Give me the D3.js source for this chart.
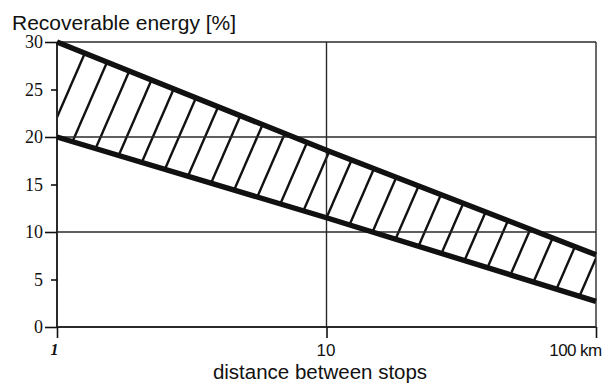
<!DOCTYPE html>
<html>
<head>
<meta charset="utf-8">
<script src="https://cdn.jsdelivr.net/npm/d3@7"></script>
<style>
  html, body { margin: 0; padding: 0; background: #fff; }
  svg { display: block; }
</style>
</head>
<body>
<svg id="chart" width="604" height="385"></svg>
<script>
// Distance between stops (km) and the recoverable-energy band limits (%)
const distances = [1, 10, 100];
const upperBound = [30, 18.6, 7.6];
const lowerBound = [20, 11.5, 2.7];

const yTicks = [0, 5, 10, 15, 20, 25, 30];
const yMajor = [0, 10, 20, 30];
const xTicks = [1, 10, 100];
const xTickLabels = ["1", "10", "100 km"];

const titleText = "Recoverable energy [%]";
const xTitleText = "distance between stops";

const svg = d3.select("#chart");
const plot = { left: 57, right: 596, top: 42, bottom: 327 };
const ink = "#111";

const x = d3.scaleLog().domain([1, 100]).range([plot.left, plot.right]);
const y = d3.scaleLinear().domain([0, 30]).range([plot.bottom, plot.top]);

const band = distances.map((d, i) => ({ d, hi: upperBound[i], lo: lowerBound[i] }));

// Hatched band: clip a family of parallel strokes to the area between the limits
const area = d3.area().x(p => x(p.d)).y0(p => y(p.lo)).y1(p => y(p.hi));
svg.append("defs").append("clipPath").attr("id", "bandClip")
  .append("path").attr("d", area(band));

const hatchSlope = 2.3;     // rise per unit run of each hatch stroke
const hatchStep = 26.1;     // horizontal spacing between strokes
const hatchPhase = 18;      // x where a stroke meets the baseline
const rise = plot.bottom - plot.top;
const hatchX = d3.range(-2, 25).map(k => hatchPhase + k * hatchStep);
svg.append("g").attr("clip-path", "url(#bandClip)")
  .selectAll("line").data(hatchX).join("line")
  .attr("x1", c => c).attr("y1", plot.bottom)
  .attr("x2", c => c + rise / hatchSlope).attr("y2", plot.top)
  .attr("stroke", ink).attr("stroke-width", 2.4);

// Grid: horizontal rules at the major values, vertical rules at each decade
svg.append("g").selectAll("line").data(yMajor).join("line")
  .attr("x1", plot.left).attr("x2", plot.right)
  .attr("y1", d => y(d)).attr("y2", d => y(d))
  .attr("stroke", "#2a2a2a").attr("stroke-width", d => d === 0 ? 2 : 1.4);
svg.append("g").selectAll("line").data(xTicks).join("line")
  .attr("x1", d => x(d)).attr("x2", d => x(d))
  .attr("y1", plot.top).attr("y2", plot.bottom)
  .attr("stroke", "#2a2a2a").attr("stroke-width", d => d === 1 ? 2 : 1.4);

// Left axis with long ticks at the major values and short ones between
const yAxis = svg.append("g").attr("transform", `translate(${plot.left},0)`)
  .call(d3.axisLeft(y).tickValues(yTicks).tickSize(12).tickPadding(2));
yAxis.select(".domain").remove();
yAxis.selectAll(".tick line")
  .attr("x2", d => yMajor.includes(d) ? -12 : -6)
  .attr("stroke", ink).attr("stroke-width", 1.6);
yAxis.selectAll(".tick text")
  .attr("font-family", "'Liberation Serif', 'Times New Roman', serif")
  .attr("font-size", 18).attr("fill", ink);

// Bottom axis
const xAxis = svg.append("g").attr("transform", `translate(0,${plot.bottom})`)
  .call(d3.axisBottom(x).tickValues(xTicks).tickSize(11).tickPadding(6)
    .tickFormat((d, i) => xTickLabels[i]));
xAxis.select(".domain").remove();
xAxis.selectAll(".tick line").attr("stroke", ink).attr("stroke-width", 1.6);
xAxis.selectAll(".tick text")
  .attr("font-family", "'Liberation Sans', Arial, sans-serif")
  .attr("font-size", 17).attr("fill", ink)
  .attr("letter-spacing", (d, i) => i === 2 ? -0.6 : 0);
xAxis.selectAll(".tick").filter(d => d === 1).select("text")
  .attr("font-family", "'Liberation Serif', 'Times New Roman', serif")
  .attr("font-style", "italic").attr("font-weight", "bold")
  .attr("font-size", 16).attr("x", -3);
xAxis.selectAll(".tick").filter(d => d === 10).select("text").attr("x", -1);
xAxis.selectAll(".tick").filter(d => d === 100).select("text")
  .attr("text-anchor", "end").attr("x", 5);

// Band limits
const line = key => d3.line().x(p => x(p.d)).y(p => y(p[key]));
svg.append("path").attr("d", line("hi")(band))
  .attr("fill", "none").attr("stroke", ink).attr("stroke-width", 5.4);
svg.append("path").attr("d", line("lo")(band))
  .attr("fill", "none").attr("stroke", ink).attr("stroke-width", 5.4);

// Titles
svg.append("text").attr("x", 12).attr("y", 30)
  .attr("font-family", "'Liberation Sans', Arial, sans-serif")
  .attr("font-size", 21).attr("fill", ink).text(titleText);
svg.append("text").attr("x", 320).attr("y", 379).attr("text-anchor", "middle")
  .attr("font-family", "'Liberation Sans', Arial, sans-serif")
  .attr("font-size", 20.5).attr("fill", ink).text(xTitleText);
</script>
</body>
</html>
